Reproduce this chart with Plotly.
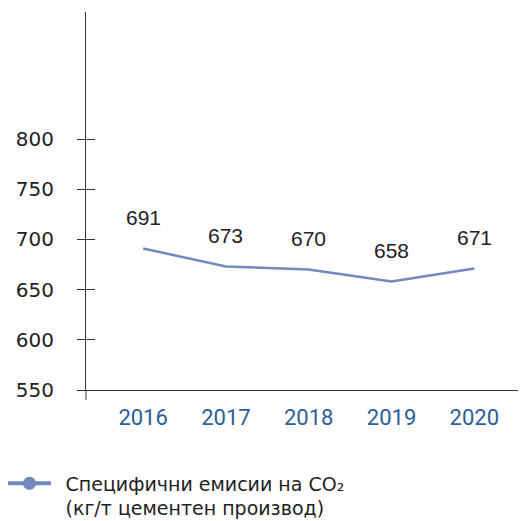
import plotly.graph_objects as go

years = ["2016", "2017", "2018", "2019", "2020"]
emissions = [691, 673, 670, 658, 671]
y_ticks = [550, 600, 650, 700, 750, 800]
series_name = "\u2002Специфични емисии на CO₂<br>\u2002(кг/т цементен производ)"

line_color = "#7189bc"
x_range = [-0.69, 4.6]
y_range = [550, 926.5]

fig = go.Figure()
fig.add_trace(go.Scatter(
    x=years, y=emissions, mode="lines",
    line=dict(color=line_color, width=2.5),
    showlegend=False, hoverinfo="skip",
))
# legend entry
fig.add_trace(go.Scatter(
    x=[None], y=[None], mode="lines+markers", name=series_name,
    line=dict(color=line_color, width=4),
    marker=dict(color=line_color, size=13),
))
# inside ticks on y
fig.add_trace(go.Scatter(x=[None], y=[None], yaxis="y2", showlegend=False))

for i, v in enumerate(emissions):
    fig.add_annotation(x=i, y=v, xref="x", yref="y", text=str(v), showarrow=False,
                       yshift=31, yanchor="middle",
                       font=dict(family="Liberation Sans", size=21, color="#222"))

fig.update_layout(
    width=518, height=513,
    margin=dict(l=78, r=2, t=4, b=131, autoexpand=False),
    paper_bgcolor="white", plot_bgcolor="white",
    showlegend=True,
    legend=dict(x=-0.1895, xanchor="left", y=-0.197, yanchor="top",
                font=dict(family="DejaVu Sans", size=19, color="#222"),
                valign="top", itemwidth=43, bgcolor="rgba(0,0,0,0)"),
    xaxis=dict(type="category", range=x_range, showgrid=False, zeroline=False,
               showline=True, linecolor="#333", linewidth=1,
               ticks="", tickfont=dict(family="Roboto", size=22, color="#2c5e97"),
               ticklabelstandoff=8),
    yaxis=dict(range=y_range, tickvals=y_ticks, showgrid=False, zeroline=False,
               showline=True, linecolor="#333", linewidth=1,
               ticks="outside", ticklen=8, tickcolor="#333",
               tickfont=dict(family="DejaVu Sans", size=20, color="#222"),
               ticklabelstandoff=19),
    yaxis2=dict(range=y_range, tickvals=y_ticks, overlaying="y", side="left",
                showgrid=False, zeroline=False, showline=False,
                ticks="inside", ticklen=9, tickcolor="#333", showticklabels=False),
    shapes=[
        dict(type="line", xref="paper", yref="paper", x0=0, x1=0, y0=-0.0265, y1=0,
             line=dict(color="#333", width=1)),
        dict(type="line", xref="paper", yref="paper", x0=1, x1=1, y0=-0.0265, y1=1,
             line=dict(color="#888", width=2)),
    ],
)
fig.write_html("out.html")
